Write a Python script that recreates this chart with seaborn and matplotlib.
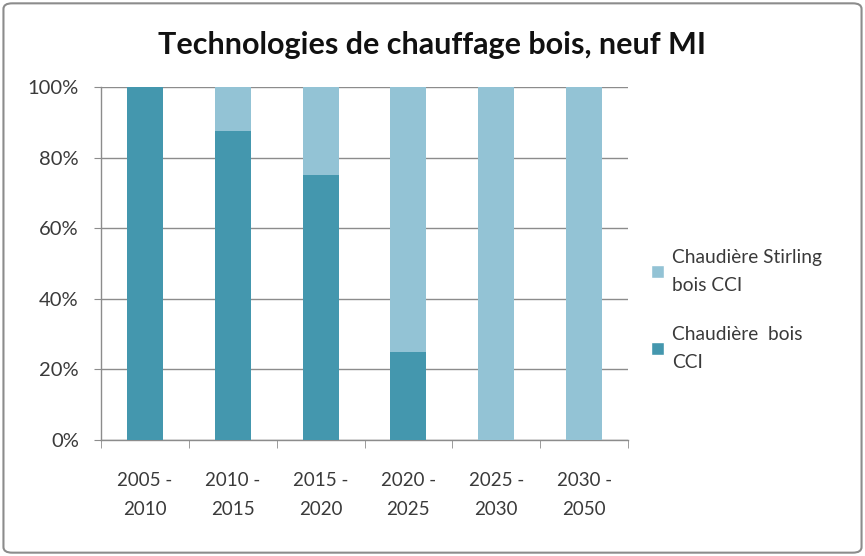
import numpy as np
import pandas as pd
import seaborn as sns
import matplotlib.pyplot as plt
from matplotlib.patches import FancyBboxPatch, Patch

#Data (shares in %)
periods = ["2005 -\n2010", "2010 -\n2015", "2015 -\n2020", "2020 -\n2025", "2025 -\n2030", "2030 -\n2050"]
bois_cci = [100, 87.5, 75, 25, 0, 0]
stirling_cci = [0, 12.5, 25, 75, 100, 100]
series_labels = ["Chaudière Stirling\nbois CCI", "Chaudière  bois\nCCI"]
y_ticks = [0, 20, 40, 60, 80, 100]

dark = "#4497ae"
light = "#93c3d5"
grid_col = "#8c8c8c"
text_col = "#3a3a3a"

df = pd.DataFrame({"period": periods, "bois": bois_cci, "stirling": stirling_cci})
df["total"] = df["bois"] + df["stirling"]

sns.set_style("white")
plt.rcParams["font.family"] = ["Lato", "DejaVu Sans"]

fig = plt.figure(figsize=(8.65, 5.56), dpi=100)
ax = fig.add_axes([101 / 865, 1 - 440 / 556, (628 - 101) / 865, (440 - 87) / 556])

#Stacked bars: total in light colour, then the lower part in dark
sns.barplot(data=df, x="period", y="total", color=light, saturation=1, width=0.41,
            linewidth=0, ax=ax, zorder=3)
sns.barplot(data=df, x="period", y="bois", color=dark, saturation=1, width=0.41,
            linewidth=0, ax=ax, zorder=4)

ax.set_ylim(0, 100)
ax.set_xlim(-0.5, len(periods) - 0.5)
ax.set_yticks(y_ticks)
ax.set_yticklabels([f"{v}%" for v in y_ticks], fontsize=14.5, color=text_col)
ax.set_xticks(range(len(periods)))
ax.set_xticklabels(periods, fontsize=13.5, color=text_col, linespacing=1.85)
ax.set_xlabel("")
ax.set_ylabel("")
ax.yaxis.grid(True, color=grid_col, linewidth=1, zorder=0)
ax.set_axisbelow(True)

#category boundary ticks on x axis
ax.set_xticks(np.arange(-0.5, len(periods), 1), minor=True)
ax.tick_params(axis="x", which="major", length=0, pad=23)
ax.tick_params(axis="x", which="minor", length=6, color=grid_col, direction="out", bottom=True)
ax.tick_params(axis="y", length=5, color=grid_col, direction="out", left=True, pad=11)

for side in ["top", "right"]:
    ax.spines[side].set_visible(False)
for side in ["left", "bottom"]:
    ax.spines[side].set_color(grid_col)
    ax.spines[side].set_linewidth(1)

fig.text(0.5, 1 - 45 / 556, "Technologies de chauffage bois, neuf MI", ha="center", va="center",
         fontsize=22, fontweight="bold", color="#111111")

handles = [Patch(facecolor=light), Patch(facecolor=dark)]
leg = fig.legend(handles, series_labels, loc="upper left", bbox_to_anchor=(634 / 865, 1 - 232 / 556),
                 frameon=False, fontsize=13.8, handlelength=0.65, handleheight=0.65, handletextpad=0.45,
                 labelspacing=1.7, labelcolor=text_col)
for t in leg.get_texts():
    t.set_linespacing(1.75)

#outer rounded border
border = FancyBboxPatch((0.004, 0.006), 0.992, 0.988, boxstyle="round,pad=0,rounding_size=0.01",
                        transform=fig.transFigure, fill=False, edgecolor="#8c8c8c", linewidth=1.5)
fig.patches.append(border)

fig.savefig("out.png", dpi=100)
